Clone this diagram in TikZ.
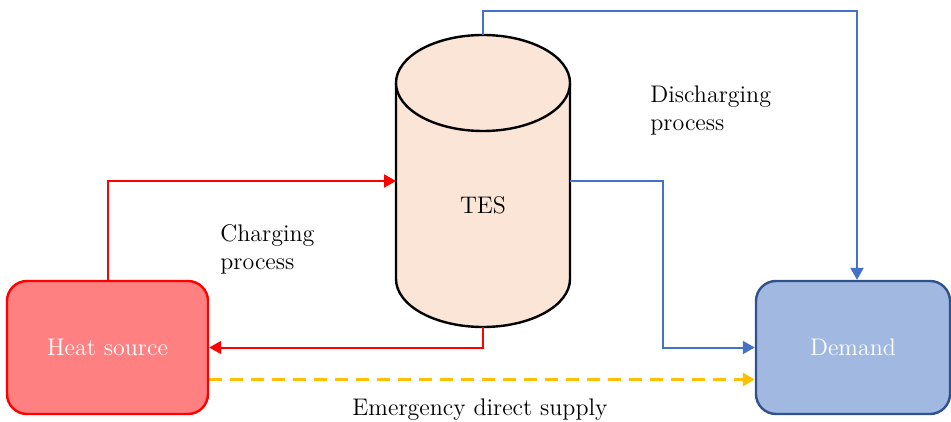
\documentclass[tikz,border=0pt]{standalone}
\usepackage{tikz}
\usepackage{xcolor}
\usetikzlibrary{positioning}
\usetikzlibrary{arrows.meta}
\definecolor{hsfill}{HTML}{FF8080}
\definecolor{hsline}{HTML}{FF0000}
\definecolor{dmfill}{HTML}{A1B8E1}
\definecolor{dmline}{HTML}{2F528F}
\definecolor{flowblue}{HTML}{4472C4}
\definecolor{flowyellow}{HTML}{FFC000}
\definecolor{tesfill}{HTML}{FBE5D6}
\tikzset{unitbox/.style={draw, rounded corners=10pt, line width=1.2pt,
text=white, font=\large, minimum height=66.5pt},
flow/.style={line width=1pt, -{Triangle[length=6pt, width=6.5pt]}},
tank/.style={draw, fill=tesfill, line width=1.2pt, line join=round},
note/.style={font=\large, align=left, inner sep=0pt}}

\begin{document}
\begin{tikzpicture}[x=0.5pt, y=-0.5pt]
\useasboundingbox (0,0) rectangle (951,422);

\node[unitbox, fill=hsfill, draw=hsline, minimum width=100.5pt] (hs) at (107.5,347.5) {Heat source};
\node[unitbox, fill=dmfill, draw=dmline, minimum width=97pt] (dem) at (853,347.5) {Demand};
\node[minimum width=87pt, minimum height=146pt, inner sep=0pt, outer sep=0pt] (tes) at (483,181) {};
\draw[tank] ([yshift=-24pt]tes.north west) -- ([yshift=24pt]tes.south west)
  arc[start angle=180, end angle=360, x radius=43.5pt, y radius=24pt]
  -- ([yshift=-24pt]tes.north east)
  arc[start angle=0, end angle=180, x radius=43.5pt, y radius=24pt] -- cycle;
\draw[tank] ([yshift=-24pt]tes.north east)
  arc[start angle=0, end angle=-180, x radius=43.5pt, y radius=24pt];
\node[font=\large] (teslabel) at (483,205) {TES};

\draw[flow, hsline] (hs.north) |- (tes.west);
\draw[flow, hsline] (tes.south) |- (hs.east);
\coordinate (top) at ([yshift=12pt]tes.north);
\draw[flow, flowblue] (tes.north) -- (top) -| ([xshift=2pt]dem.north);
\coordinate (mid) at (663,181);
\draw[flow, flowblue] (tes.east) -- (mid) |- (dem.west);
\draw[flow, flowyellow, line width=1.5pt, dash pattern=on 6.5pt off 4pt]
([yshift=-16pt]hs.east) -- ([yshift=-16pt]dem.west);

\node[note, anchor=north west] (charge) at (220,224) {Charging\\process};
\node[note, anchor=north west] (discharge) at (650,85) {Discharging\\process};
\node[font=\large, anchor=base] (emergency) at (480,415) {Emergency direct supply};
\end{tikzpicture}
\end{document}
